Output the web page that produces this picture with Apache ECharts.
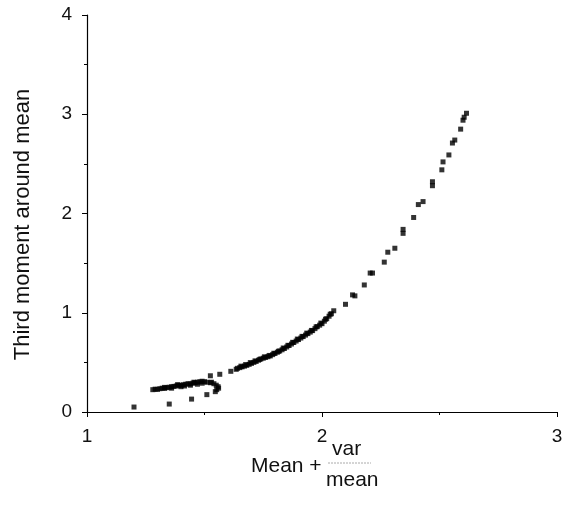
<!DOCTYPE html>
<html>
<head>
<meta charset="utf-8">
<script src="https://cdn.jsdelivr.net/npm/echarts@6/dist/echarts.min.js"></script>
<style>
  html, body { margin: 0; padding: 0; background: #fff; }
  #chart { width: 570px; height: 508px; }
</style>
</head>
<body>
<div id="chart"></div>
<script>
// x = mean + var/mean, y = third moment around mean
var xVals = [
  1.20, 1.35, 1.445, 1.51, 1.546,
  1.28, 1.29, 1.30, 1.31, 1.32, 1.33, 1.34, 1.35, 1.36, 1.37, 1.38, 1.39, 1.40, 1.41, 1.42,
  1.43, 1.44, 1.45, 1.46, 1.47, 1.48, 1.49, 1.50,
  1.36, 1.40, 1.44, 1.47, 1.49, 1.33, 1.385, 1.415, 1.455,
  1.51, 1.525, 1.53, 1.54, 1.55, 1.558, 1.56, 1.552,
  1.525, 1.565, 1.612, 1.635,
  1.64, 1.65, 1.66, 1.67, 1.68, 1.69, 1.70, 1.71, 1.72, 1.73, 1.74, 1.75, 1.76, 1.77, 1.78,
  1.79, 1.80, 1.81, 1.82, 1.83, 1.84, 1.85, 1.86, 1.87, 1.88, 1.89, 1.90, 1.91, 1.92, 1.93,
  1.94, 1.95, 1.96, 1.97, 1.98, 1.99, 2.00, 2.01, 2.02, 2.03, 2.04, 2.05,
  1.655, 1.675, 1.695, 1.715, 1.735, 1.755, 1.775, 1.795, 1.815, 1.835, 1.855, 1.875,
  1.895, 1.915, 1.935, 1.955, 1.975, 1.995, 2.015, 2.035,
  2.10, 2.13, 2.14, 2.18, 2.205, 2.215, 2.265, 2.28, 2.31, 2.345, 2.345, 2.39, 2.41, 2.43,
  2.47, 2.47, 2.51, 2.515, 2.54, 2.555, 2.565, 2.59, 2.60, 2.605, 2.615
];
var yVals = [
  0.05, 0.08, 0.13, 0.175, 0.205,
  0.225, 0.23, 0.228, 0.235, 0.24, 0.238, 0.245, 0.25, 0.255, 0.258, 0.262, 0.27, 0.268, 0.275, 0.28,
  0.285, 0.283, 0.29, 0.295, 0.30, 0.305, 0.31, 0.305,
  0.24, 0.255, 0.27, 0.28, 0.29, 0.248, 0.275, 0.262, 0.3,
  0.30, 0.295, 0.30, 0.285, 0.27, 0.255, 0.24, 0.225,
  0.365, 0.38, 0.41, 0.43,
  0.44, 0.447, 0.455, 0.462, 0.47, 0.48, 0.49, 0.50, 0.51, 0.522, 0.535, 0.542, 0.55, 0.557, 0.565,
  0.578, 0.59, 0.602, 0.615, 0.627, 0.64, 0.655, 0.67, 0.685, 0.70, 0.715, 0.73, 0.745, 0.76, 0.775,
  0.79, 0.805, 0.82, 0.84, 0.86, 0.875, 0.89, 0.915, 0.94, 0.965, 0.99, 1.02,
  0.462, 0.478, 0.498, 0.515, 0.53, 0.556, 0.57, 0.592, 0.612, 0.645, 0.672, 0.702,
  0.735, 0.762, 0.795, 0.822, 0.858, 0.896, 0.935, 0.985,
  1.085, 1.18, 1.17, 1.28, 1.40, 1.40, 1.51, 1.61, 1.65, 1.80, 1.84, 1.96, 2.09, 2.12,
  2.28, 2.32, 2.44, 2.52, 2.59, 2.71, 2.74, 2.85, 2.94, 2.97, 3.01
];
var xTicks = [1, 2, 3];
var yTicks = [0, 1, 2, 3, 4];

var points = [];
for (var i = 0; i < xVals.length; i++) {
    points.push([xVals[i], yVals[i]]);
}

var chart = echarts.init(document.getElementById('chart'));
var txt = '#111';
var fontFam = 'Liberation Sans, Arial, sans-serif';

chart.setOption({
    animation: false,
    backgroundColor: '#fff',
    grid: { left: 87, right: 13, top: 15, bottom: 96, outerBoundsMode: 'none', containLabel: false },
    xAxis: {
        type: 'value',
        min: xTicks[0],
        max: xTicks[xTicks.length - 1],
        interval: 1,
        axisLine: { onZero: false, lineStyle: { color: '#000', width: 1.2 } },
        axisTick: { show: true, length: 5, lineStyle: { color: '#000' } },
        minorTick: { show: true, splitNumber: 2, length: 3, lineStyle: { color: '#000' } },
        splitLine: { show: false },
        axisLabel: { color: txt, fontSize: 19, fontFamily: fontFam, margin: 15 }
    },
    yAxis: {
        type: 'value',
        min: yTicks[0],
        max: yTicks[yTicks.length - 1],
        interval: 1,
        name: 'Third moment around mean',
        nameLocation: 'middle',
        nameGap: 53,
        nameTextStyle: { color: txt, fontSize: 22, fontFamily: fontFam, padding: [0, 22, 0, 0] },
        axisLine: { show: true, lineStyle: { color: '#000', width: 1.2 } },
        axisTick: { show: true, length: 5, lineStyle: { color: '#000' } },
        minorTick: { show: true, splitNumber: 2, length: 3, lineStyle: { color: '#000' } },
        splitLine: { show: false },
        axisLabel: { color: txt, fontSize: 19, fontFamily: fontFam, margin: 15 }
    },
    graphic: [
        { type: 'text', left: 251, top: 456,
          style: { text: 'Mean +', fill: txt, font: '21px ' + fontFam } },
        { type: 'text', left: 332, top: 439,
          style: { text: 'var', fill: txt, font: '21px ' + fontFam } },
        { type: 'line', shape: { x1: 328, y1: 463, x2: 371, y2: 463 },
          style: { stroke: '#aaa', lineWidth: 1, lineDash: [2, 1] } },
        { type: 'text', left: 326, top: 470,
          style: { text: 'mean', fill: txt, font: '21px ' + fontFam } }
    ],
    series: [{
        type: 'scatter',
        data: points,
        symbol: 'rect',
        symbolSize: 5,
        itemStyle: { color: '#000' }
    }]
});
</script>
</body>
</html>
